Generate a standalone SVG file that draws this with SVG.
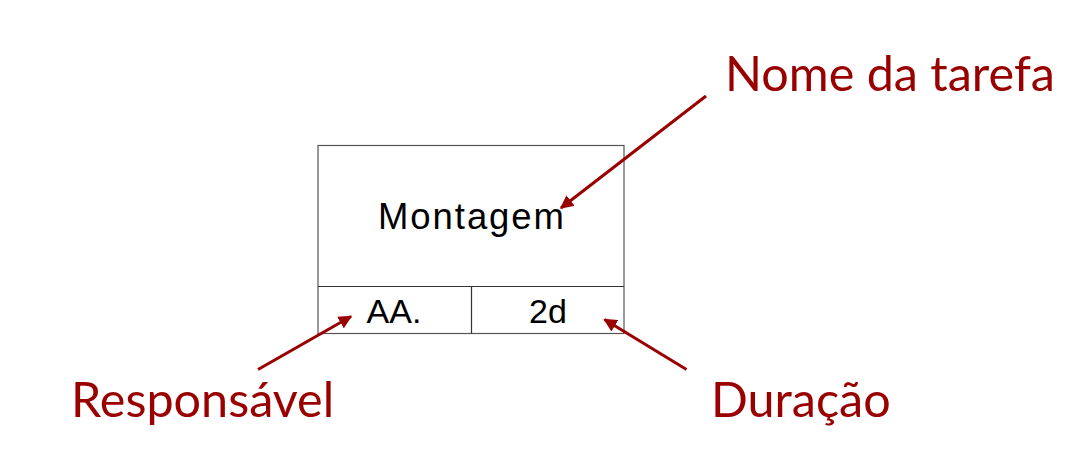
<svg xmlns="http://www.w3.org/2000/svg" width="1082" height="470" viewBox="0 0 1082 470">
<style>
.box{fill:#fff;stroke:#555;stroke-width:1.2}
.div{fill:none;stroke:#333;stroke-width:1.2}
.t{font-family:"Liberation Sans",Arial,sans-serif;fill:#000;text-anchor:middle}
.lbl{font-family:Lato,"Noto Sans",sans-serif;fill:#990000;font-size:48.5px}
.arr{stroke:#990000;stroke-width:3;fill:none;marker-end:url(#ah)}
</style>
<defs>
<marker id="ah" viewBox="0 0 10 10" refX="9" refY="5" markerWidth="4.5" markerHeight="4.5" orient="auto" markerUnits="strokeWidth">
<path d="M0,0 L10,5 L0,10 Z" fill="#990000"/>
</marker>
</defs>
<rect width="1082" height="470" fill="#fff"/>
<g id="task">
<rect class="box" x="318" y="145.5" width="306" height="188"/>
<line class="div" x1="318" y1="286.5" x2="624" y2="286.5"/>
<line class="div" x1="471.5" y1="286.5" x2="471.5" y2="333.5"/>
<text class="t" x="471" y="229" font-size="36.5" textLength="186" lengthAdjust="spacing">Montagem</text>
<text class="t" x="394" y="323" font-size="34">AA.</text>
<text class="t" x="548" y="323" font-size="34">2d</text>
</g>
<g id="label-nome"><text class="lbl" x="725" y="91">Nome da tarefa</text></g>
<g id="label-resp"><text class="lbl" x="71" y="417">Responsável</text></g>
<g id="label-dur"><text class="lbl" x="711" y="417">Duração</text></g>
<g id="connectors">
<line class="arr" x1="706" y1="96" x2="561" y2="208"/>
<line class="arr" x1="258" y1="369.5" x2="351" y2="316.5"/>
<line class="arr" x1="686.5" y1="369.5" x2="604.5" y2="319.5"/>
</g>
</svg>
